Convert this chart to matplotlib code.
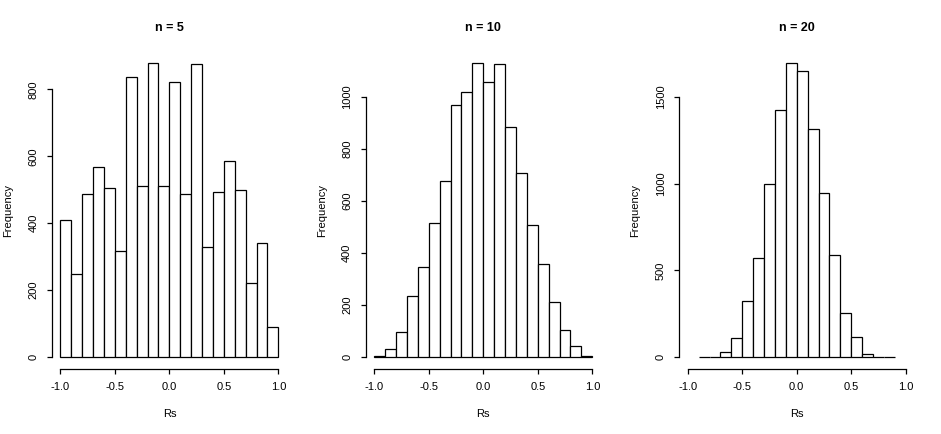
import numpy as np
import matplotlib.pyplot as plt

plt.rcParams['font.family'] = ['Liberation Sans', 'DejaVu Sans']

titles = ["n = 5", "n = 10", "n = 20"]

# bin edges (width 0.1)
edges_5 = np.round(np.arange(-1.0, 1.0001, 0.1), 2)
edges_10 = np.round(np.arange(-1.0, 1.0001, 0.1), 2)
edges_20 = np.round(np.arange(-0.9, 0.9001, 0.1), 2)

counts_5 = [411, 247, 486, 567, 504, 317, 836, 510, 878, 510,
            821, 486, 875, 328, 492, 585, 498, 223, 340, 90]
counts_10 = [4, 31, 96, 234, 346, 515, 676, 967, 1018, 1129,
             1056, 1125, 883, 707, 507, 357, 211, 104, 42, 4]
counts_20 = [0, 3, 29, 109, 323, 570, 997, 1423, 1694, 1648,
             1313, 945, 588, 254, 115, 17, 0, 0]

yticks_5 = [0, 200, 400, 600, 800]
yticks_10 = [0, 200, 400, 600, 800, 1000]
yticks_20 = [0, 500, 1000, 1500]
xticks = [-1.0, -0.5, 0.0, 0.5, 1.0]

panels = [
    (edges_5, counts_5, yticks_5),
    (edges_10, counts_10, yticks_10),
    (edges_20, counts_20, yticks_20),
]
lefts = [0.0549, 0.3885, 0.7216]

fig = plt.figure(figsize=(9.41, 4.34), dpi=100)

for left, title, (edges, counts, yticks) in zip(lefts, titles, panels):
    ax = fig.add_axes([left, 0.1498, 0.2502, 0.7318])
    ax.bar(edges[:-1], counts, width=0.1, align='edge', color='white',
           edgecolor='black', linewidth=0.9)

    ymax = max(counts)
    ax.set_xlim(-1.08, 1.08)
    ax.set_ylim(-0.04 * ymax, 1.04 * ymax)

    ax.spines['top'].set_visible(False)
    ax.spines['right'].set_visible(False)
    ax.spines['bottom'].set_bounds(-1.0, 1.0)
    ax.spines['left'].set_bounds(yticks[0], yticks[-1])
    ax.spines['bottom'].set_linewidth(0.9)
    ax.spines['left'].set_linewidth(0.9)

    ax.set_xticks(xticks)
    ax.set_xticklabels(["%.1f" % t for t in xticks])
    ax.set_yticks(yticks)
    ax.tick_params(direction='out', length=3.6, width=0.9, labelsize=8, pad=6)
    for lab in ax.get_yticklabels():
        lab.set_rotation(90)
        lab.set_va('center')
        lab.set_ha('right')

    ax.set_xlabel("Rs", fontsize=8)
    ax.xaxis.label.set_va('center')
    ax.xaxis.set_label_coords(0.5, -0.1417)
    ax.set_ylabel("Frequency", fontsize=8)
    ax.yaxis.label.set_va('center')
    ax.yaxis.set_label_coords(-0.1844, 0.5)

    ax.text(0.5, 1.0737, title, transform=ax.transAxes, ha='center',
            va='center', fontsize=9, fontweight='bold')

fig.savefig("out.png", dpi=100)
